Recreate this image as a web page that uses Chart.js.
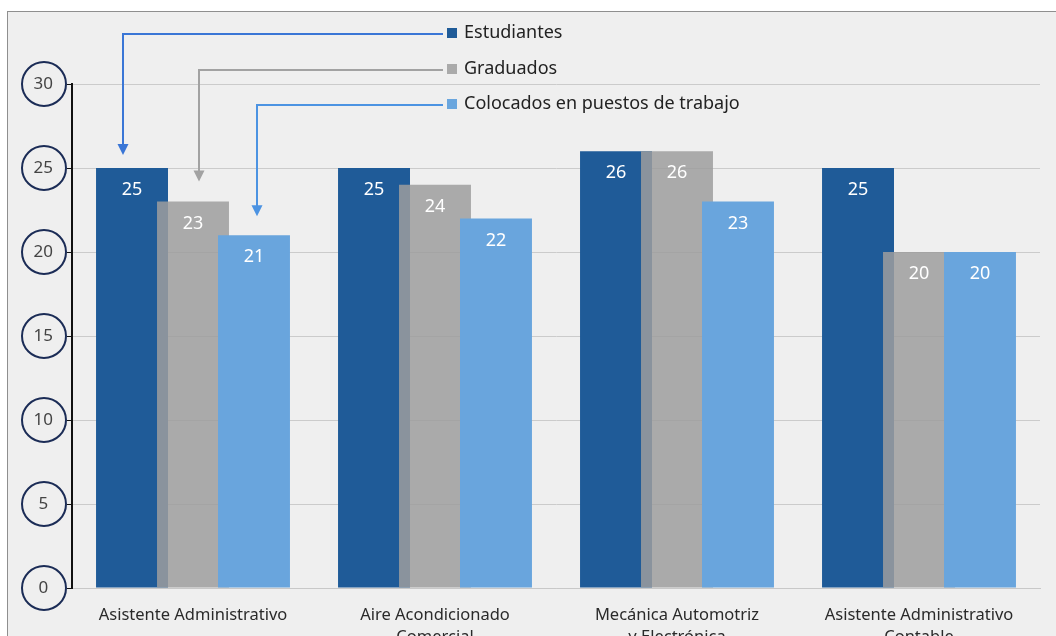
<!DOCTYPE html>
<html>
<head>
<meta charset="utf-8">
<title>Estudiantes, graduados y colocados</title>
<script src="https://cdn.jsdelivr.net/npm/chart.js"></script>
<style>
  html, body {
    margin: 0;
    padding: 0;
    background: #ffffff;
    overflow: hidden;
  }
  .chart-box {
    position: relative;
    width: 1056px;
    height: 660px;
  }
</style>
</head>
<body>
<div class="chart-box">
  <canvas id="chart"></canvas>
</div>
<script>
// data
const categories = [
  'Asistente Administrativo',
  ['Aire Acondicionado', 'Comercial'],
  ['Mecánica Automotriz', 'y Electrónica'],
  ['Asistente Administrativo', 'Contable']
];
const seriesNames = ['Estudiantes', 'Graduados', 'Colocados en puestos de trabajo'];
const estudiantes = [25, 25, 26, 25];
const graduados = [23, 24, 26, 20];
const colocados = [21, 22, 23, 20];
const yTicks = [0, 5, 10, 15, 20, 25, 30];

const barColors = ['#1f5b98', 'rgba(158, 158, 158, 0.85)', '#69a5dd'];
const keyColors = ['#1f5b98', '#aaaaaa', '#6aa6de'];
const arrowColors = ['#3a76d6', '#a2a2a2', '#4c93e2'];
const FONT = "'Noto Sans', 'Open Sans', sans-serif";

// frame, bar draw order, value labels, round tick badges, legend with arrows
const decor = {
  id: 'decor',
  beforeDraw(chart) {
    const ctx = chart.ctx;
    ctx.save();
    ctx.fillStyle = '#ffffff';
    ctx.fillRect(0, 0, chart.width, chart.height);
    ctx.fillStyle = '#efefef';
    ctx.fillRect(7, 11, chart.width + 20, chart.height + 20);
    ctx.strokeStyle = '#8f8f8f';
    ctx.lineWidth = 1;
    ctx.strokeRect(7.5, 11.5, chart.width + 20, chart.height + 20);
    ctx.restore();
  },
  beforeDatasetDraw() {
    // drawn by hand below so the right-hand bar sits on top
    return false;
  },
  afterDatasetsDraw(chart) {
    const ctx = chart.ctx;
    chart.data.datasets.forEach((ds, i) => {
      chart.getDatasetMeta(i).controller.draw();
    });

    // values inside the bars
    ctx.save();
    ctx.fillStyle = '#ffffff';
    ctx.font = '18px ' + FONT;
    ctx.textAlign = 'center';
    ctx.textBaseline = 'middle';
    chart.data.datasets.forEach((ds, i) => {
      chart.getDatasetMeta(i).data.forEach((bar, j) => {
        ctx.fillText(String(ds.data[j]), bar.x, bar.y + 22);
      });
    });
    ctx.restore();
  },
  afterDraw(chart) {
    const ctx = chart.ctx;
    const y = chart.scales.y;

    // circles round the y tick labels
    ctx.save();
    ctx.strokeStyle = '#1b2c56';
    ctx.lineWidth = 2;
    y.ticks.forEach(t => {
      const py = y.getPixelForValue(t.value);
      ctx.beginPath();
      ctx.arc(44, py, 22, 0, Math.PI * 2);
      ctx.stroke();
    });
    ctx.restore();

    // legend keys
    const rows = [33, 69, 104];
    const keyX = 447;
    ctx.save();
    ctx.font = '18px ' + FONT;
    ctx.textBaseline = 'middle';
    ctx.textAlign = 'left';
    seriesNames.forEach((name, i) => {
      ctx.fillStyle = keyColors[i];
      ctx.fillRect(keyX, rows[i] - 5, 10, 10);
      ctx.fillStyle = '#222222';
      ctx.fillText(name, keyX + 17, rows[i]);
    });

    // arrows from the legend down to the first group
    const xShift = [-9, 6, 3];
    const gap = [13, 20, 19];
    ctx.lineWidth = 2;
    chart.data.datasets.forEach((ds, i) => {
      const bar = chart.getDatasetMeta(i).data[0];
      const vx = Math.round(bar.x + xShift[i]);
      const tip = bar.y - gap[i];
      const ly = rows[i] + 1;
      ctx.strokeStyle = arrowColors[i];
      ctx.fillStyle = arrowColors[i];
      ctx.beginPath();
      ctx.moveTo(keyX - 4, ly);
      ctx.lineTo(vx, ly);
      ctx.lineTo(vx, tip - 9);
      ctx.stroke();
      ctx.beginPath();
      ctx.moveTo(vx - 5.5, tip - 11);
      ctx.lineTo(vx + 5.5, tip - 11);
      ctx.lineTo(vx, tip);
      ctx.closePath();
      ctx.fill();
    });
    ctx.restore();
  }
};

const ctx = document.getElementById('chart').getContext('2d');
const chart = new Chart(ctx, {
  type: 'bar',
  data: {
    labels: categories,
    datasets: [
      { label: seriesNames[0], data: estudiantes, backgroundColor: barColors[0] },
      { label: seriesNames[1], data: graduados, backgroundColor: barColors[1] },
      { label: seriesNames[2], data: colocados, backgroundColor: barColors[2] }
    ]
  },
  options: {
    responsive: true,
    maintainAspectRatio: false,
    animation: false,
    categoryPercentage: 0.756,
    barPercentage: 1.18,
    layout: { padding: { top: 84, left: 0, right: 16, bottom: 0 } },
    plugins: {
      legend: { display: false },
      tooltip: { enabled: false }
    },
    scales: {
      x: {
        afterFit(scale) { scale.height = 72; },
        grid: { display: false },
        border: { display: true, color: '#c8c8c8', width: 1 },
        ticks: {
          padding: 8,
          color: '#2a2a2a',
          maxRotation: 0,
          autoSkip: false,
          font: { family: FONT, size: 16.5, lineHeight: 1.35 }
        }
      },
      y: {
        min: 0,
        max: 30,
        afterFit(scale) { scale.width = 72; },
        afterBuildTicks(scale) { scale.ticks = yTicks.map(v => ({ value: v })); },
        grid: { color: '#cbcbcb', tickColor: '#111111', tickLength: 5, lineWidth: 1 },
        border: { display: true, color: '#111111', width: 2 },
        ticks: {
          padding: 14,
          crossAlign: 'center',
          color: '#444444',
          font: { family: FONT, size: 17 }
        }
      }
    }
  },
  plugins: [decor]
});
</script>
</body>
</html>
